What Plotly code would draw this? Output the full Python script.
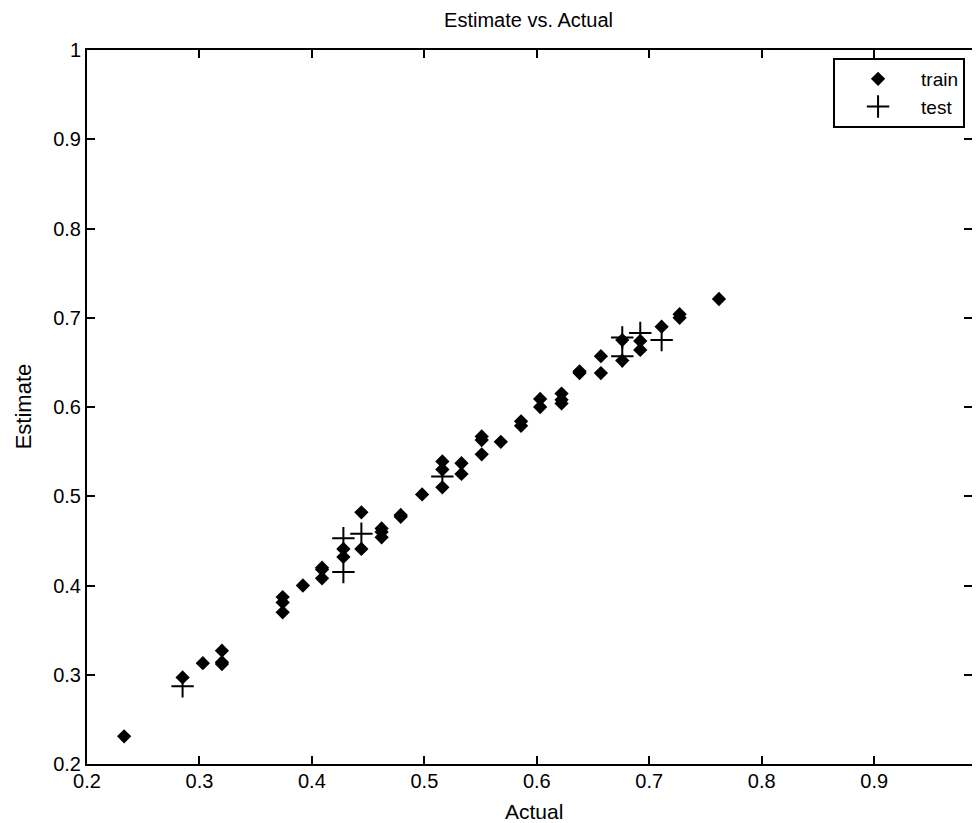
import plotly.graph_objects as go

train_x = [0.233, 0.285, 0.303, 0.320, 0.320, 0.320,
           0.374, 0.374, 0.374, 0.392, 0.409, 0.409, 0.409,
           0.428, 0.428, 0.444, 0.444, 0.462, 0.462, 0.462,
           0.479, 0.479, 0.498, 0.516, 0.516, 0.516, 0.533, 0.533,
           0.551, 0.551, 0.551, 0.568, 0.586, 0.586,
           0.603, 0.603, 0.622, 0.622, 0.622, 0.638, 0.638,
           0.657, 0.657, 0.676, 0.676, 0.692, 0.692, 0.711,
           0.727, 0.727, 0.762]
train_y = [0.231, 0.297, 0.313, 0.327, 0.312, 0.314,
           0.387, 0.381, 0.370, 0.400, 0.420, 0.418, 0.408,
           0.441, 0.432, 0.482, 0.441, 0.464, 0.460, 0.454,
           0.479, 0.477, 0.502, 0.539, 0.530, 0.510, 0.537, 0.525,
           0.567, 0.563, 0.547, 0.561, 0.584, 0.579,
           0.609, 0.600, 0.615, 0.608, 0.604, 0.640, 0.638,
           0.657, 0.638, 0.675, 0.652, 0.674, 0.664, 0.690,
           0.704, 0.700, 0.721]

test_x = [0.285, 0.428, 0.428, 0.444, 0.516, 0.676, 0.676, 0.692, 0.711]
test_y = [0.287, 0.453, 0.415, 0.458, 0.522, 0.678, 0.657, 0.683, 0.675]

x_ticks = [0.2, 0.3, 0.4, 0.5, 0.6, 0.7, 0.8, 0.9]
x_labels = ["0.2", "0.3", "0.4", "0.5", "0.6", "0.7", "0.8", "0.9"]
y_ticks = [0.2, 0.3, 0.4, 0.5, 0.6, 0.7, 0.8, 0.9, 1.0]
y_labels = ["0.2", "0.3", "0.4", "0.5", "0.6", "0.7", "0.8", "0.9", "1"]

font = "Liberation Sans, Arial, sans-serif"

fig = go.Figure()
fig.add_trace(go.Scatter(
    x=train_x, y=train_y, mode="markers", name="train",
    marker=dict(symbol="diamond", size=11, color="black"),
))
fig.add_trace(go.Scatter(
    x=test_x, y=test_y, mode="markers", name="test",
    marker=dict(symbol="cross-thin", size=16, color="black",
                line=dict(color="black", width=2)),
))

axis_common = dict(
    showgrid=False, zeroline=False, showline=True, linecolor="black",
    linewidth=2, mirror="ticks", ticks="inside", ticklen=8, tickwidth=1.5,
    tickcolor="black", tickfont=dict(family=font, size=20, color="black"),
    automargin=False,
)

fig.update_layout(
    width=964, height=823,
    paper_bgcolor="white", plot_bgcolor="white",
    margin=dict(l=79, r=0, t=42, b=67),
    title=dict(text="Estimate vs. Actual", x=0.540, xanchor="center",
               xref="container", y=1 - 12 / 823, yanchor="middle", yref="container",
               font=dict(family=font, size=20, color="black")),
    xaxis=dict(range=[0.2, 0.987], tickvals=x_ticks, ticktext=x_labels,
               ticklabelstandoff=-2, **axis_common),
    yaxis=dict(range=[0.2, 1.0], tickvals=y_ticks, ticktext=y_labels,
               **axis_common),
    annotations=[
        dict(text="Actual", xref="paper", yref="paper", x=0.505, y=-0.0672,
             xanchor="center", yanchor="middle", showarrow=False,
             font=dict(family=font, size=21, color="black")),
        dict(text="Estimate", xref="paper", yref="paper", x=-0.0723, y=0.501,
             xanchor="center", yanchor="middle", showarrow=False, textangle=-90,
             font=dict(family=font, size=22, color="black")),
    ],
    legend=dict(x=0.843, y=0.9888, xanchor="left", yanchor="top",
                bgcolor="white", bordercolor="black", borderwidth=2,
                font=dict(family=font, size=19, color="black"),
                itemwidth=76, tracegroupgap=0),
    showlegend=True,
)

fig.write_html("out.html")
